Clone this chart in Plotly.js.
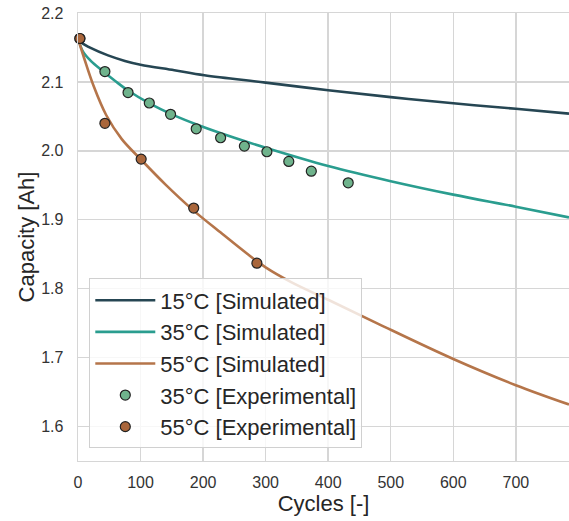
<!DOCTYPE html>
<html>
<head>
<meta charset="utf-8">
<script src="https://cdn.plot.ly/plotly-3.0.1.min.js"></script>
<style>
  html, body { margin: 0; padding: 0; background: #ffffff; }
  #chart { width: 569px; height: 521px; }
</style>
</head>
<body>
<div id="chart"></div>
<script>
// Simulated capacity fade curves (cycles vs. capacity in Ah)
const sim15Cycles = [0, 6, 21, 48, 75, 100, 154, 202, 300, 400, 500, 600, 700, 785];
const sim15Cap    = [2.163, 2.157, 2.149, 2.1385, 2.1305, 2.125, 2.117, 2.1097, 2.099, 2.088, 2.078, 2.069, 2.061, 2.054];

const sim35Cycles = [0, 8, 20, 40, 60, 80, 115, 150, 195, 250, 300, 400, 500, 600, 700, 785];
const sim35Cap    = [2.163, 2.144, 2.131, 2.1155, 2.101, 2.0875, 2.0685, 2.053, 2.0365, 2.019, 2.0045, 1.978, 1.956, 1.9365, 1.919, 1.9035];

const sim55Cycles = [0, 10, 25, 45, 70, 100, 140, 184, 230, 270, 300, 340, 400, 480, 600, 700, 785];
const sim55Cap    = [2.163, 2.134, 2.094, 2.052, 2.017, 1.988, 1.951, 1.914, 1.880, 1.851, 1.831, 1.810, 1.784, 1.749, 1.698, 1.660, 1.632];

// Measured capacity
const exp35Cycles = [3, 43, 80, 114, 148, 189, 228, 266, 302, 337, 373, 432];
const exp35Cap    = [2.163, 2.115, 2.0846, 2.0694, 2.053, 2.032, 2.019, 2.0069, 1.9987, 1.9846, 1.9705, 1.9536];

const exp55Cycles = [3, 43, 101, 185, 286];
const exp55Cap    = [2.163, 2.040, 1.988, 1.917, 1.837];

const seriesNames = ['15°C [Simulated]', '35°C [Simulated]', '55°C [Simulated]',
                     '35°C [Experimental]', '55°C [Experimental]'];

const FONT = 'Arial, "Liberation Sans", sans-serif';
const TEXT = '#262626';
const GRID = '#d6d6d6';

function simTrace(x, y, name, color) {
  return {
    type: 'scatter', mode: 'lines', x: x, y: y, name: name,
    line: { color: color, width: 2.6, shape: 'spline', smoothing: 1 },
    hoverinfo: 'skip'
  };
}
function expTrace(x, y, name, color) {
  return {
    type: 'scatter', mode: 'markers', x: x, y: y, name: name,
    marker: { color: color, size: 10, line: { color: '#222222', width: 1.2 } },
    cliponaxis: false,
    hoverinfo: 'skip'
  };
}

const data = [
  simTrace(sim15Cycles, sim15Cap, seriesNames[0], '#264653'),
  simTrace(sim35Cycles, sim35Cap, seriesNames[1], '#2a9d8f'),
  simTrace(sim55Cycles, sim55Cap, seriesNames[2], '#b5754a'),
  expTrace(exp35Cycles, exp35Cap, seriesNames[3], '#6fb38c'),
  expTrace(exp55Cycles, exp55Cap, seriesNames[4], '#a9663b')
];

const axisCommon = {
  showgrid: true, gridcolor: GRID, gridwidth: 1.4,
  showline: true, linecolor: GRID, linewidth: 1.4, mirror: true,
  zeroline: false, ticks: '',
  tickfont: { family: FONT, size: 16, color: '#333333' },
  automargin: false
};

const layout = {
  width: 569, height: 521,
  margin: { l: 78, r: 0, t: 13, b: 60 },
  paper_bgcolor: '#ffffff', plot_bgcolor: '#ffffff',
  font: { family: FONT, color: TEXT },
  showlegend: true,
  xaxis: Object.assign({}, axisCommon, {
    range: [0, 785],
    tickvals: [0, 100, 200, 300, 400, 500, 600, 700],
    ticklabelstandoff: 6,
    title: { text: 'Cycles [-]', font: { family: FONT, size: 22, color: TEXT }, standoff: 0 }
  }),
  yaxis: Object.assign({}, axisCommon, {
    range: [1.55, 2.2],
    tickvals: [1.6, 1.7, 1.8, 1.9, 2.0, 2.1, 2.2],
    ticktext: ['1.6', '1.7', '1.8', '1.9', '2.0', '2.1', '2.2'],
    ticklabelstandoff: 10,
    title: { text: 'Capacity [Ah]', font: { family: FONT, size: 22, color: TEXT }, standoff: 0 }
  }),
  legend: {
    x: 0.023, y: 0.028, xanchor: 'left', yanchor: 'bottom',
    bgcolor: 'rgba(255,255,255,0.8)',
    bordercolor: '#d0d0d0', borderwidth: 1,
    font: { family: FONT, size: 22, color: TEXT },
    itemwidth: 60,
    tracegroupgap: 0
  }
};

Plotly.newPlot('chart', data, layout, { staticPlot: true, displayModeBar: false });
</script>
</body>
</html>
